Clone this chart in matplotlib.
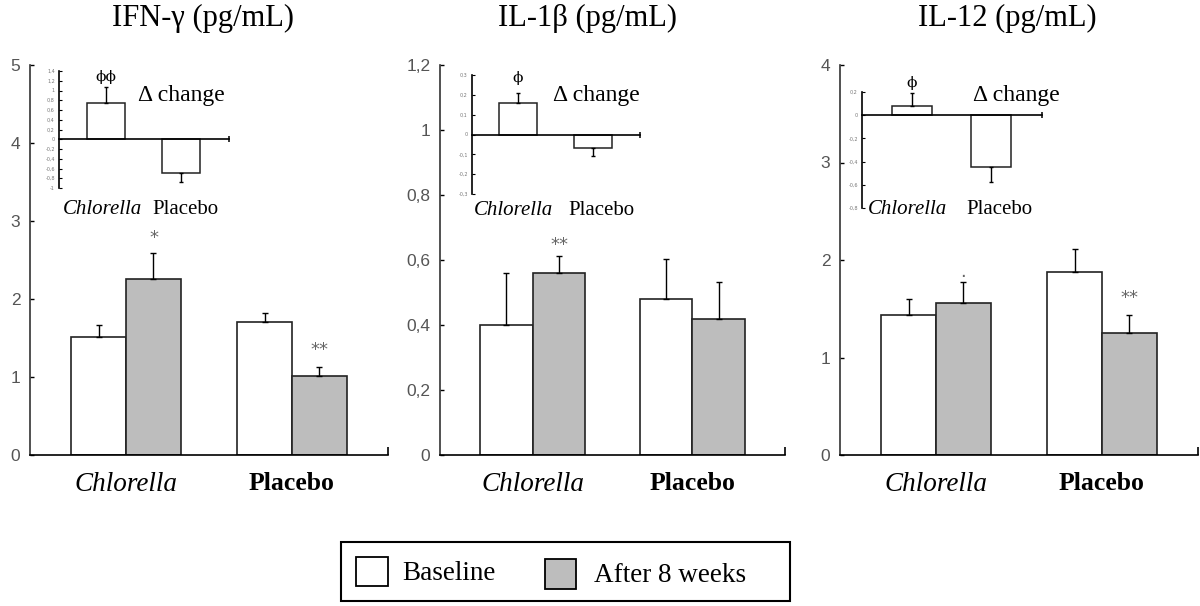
import numpy as np
import matplotlib
matplotlib.use("Agg")
import matplotlib.pyplot as plt
from matplotlib import font_manager as fm
from matplotlib.patches import Rectangle

# ---------------- data ----------------
groups = ["Chlorella", "Placebo"]
legend_labels = ["Baseline", "After 8 weeks"]

titles = ["IFN-γ (pg/mL)", "IL-1β (pg/mL)", "IL-12 (pg/mL)"]

ifn_base = [1.51, 1.71]
ifn_base_err = [0.16, 0.11]
ifn_after = [2.26, 1.01]
ifn_after_err = [0.33, 0.12]
ifn_sig = ["*", "**"]
ifn_ticks = [0, 1, 2, 3, 4, 5]
ifn_ticklabels = ["0", "1", "2", "3", "4", "5"]

il1b_base = [0.40, 0.48]
il1b_base_err = [0.16, 0.123]
il1b_after = [0.56, 0.42]
il1b_after_err = [0.052, 0.112]
il1b_sig = ["**", ""]
il1b_ticks = [0, 0.2, 0.4, 0.6, 0.8, 1.0, 1.2]
il1b_ticklabels = ["0", "0,2", "0,4", "0,6", "0,8", "1", "1,2"]

il12_base = [1.44, 1.88]
il12_base_err = [0.16, 0.23]
il12_after = [1.56, 1.25]
il12_after_err = [0.21, 0.19]
il12_sig = ["·", "**"]
il12_ticks = [0, 1, 2, 3, 4]
il12_ticklabels = ["0", "1", "2", "3", "4"]

# delta change insets
ifn_delta = [0.74, -0.70]
ifn_delta_err = [0.33, 0.18]
ifn_delta_sig = ["ϕϕ", ""]
ifn_delta_ticks = [-1, -0.8, -0.6, -0.4, -0.2, 0, 0.2, 0.4, 0.6, 0.8, 1, 1.2, 1.4]
ifn_delta_ticklabels = ["-1", "-0,8", "-0,6", "-0,4", "-0,2", "0", "0,2", "0,4",
                        "0,6", "0,8", "1", "1,2", "1,4"]

il1b_delta = [0.16, -0.07]
il1b_delta_err = [0.05, 0.04]
il1b_delta_sig = ["ϕ", ""]
il1b_delta_ticks = [-0.3, -0.2, -0.1, 0, 0.1, 0.2, 0.3]
il1b_delta_ticklabels = ["-0,3", "-0,2", "-0,1", "0", "0,1", "0,2", "0,3"]

il12_delta = [0.08, -0.45]
il12_delta_err = [0.11, 0.13]
il12_delta_sig = ["ϕ", ""]
il12_delta_ticks = [-0.8, -0.6, -0.4, -0.2, 0, 0.2]
il12_delta_ticklabels = ["-0,8", "-0,6", "-0,4", "-0,2", "0", "0,2"]

# ---------------- style / layout ----------------
names = {f.name for f in fm.fontManager.ttflist}
NARROW = "Liberation Sans Narrow" if "Liberation Sans Narrow" in names else "Liberation Sans"
SERIF = ["Liberation Serif", "DejaVu Serif"]
GREY = "#bdbdbd"
TICKC = "#555555"

W, H = 1200, 606
fig = plt.figure(figsize=(12, 6.06), dpi=100)


def rect(x0, y0, x1, y1):
    return [x0 / W, 1 - y1 / H, (x1 - x0) / W, (y1 - y0) / H]


layout = [
    dict(main=rect(30, 65, 388, 455), ymax=5, title_x=203,
         inset=rect(59, 71, 229, 188), iylim=(-1, 1.4), ixlim=(-0.63, 1.64),
         delta_xy=(0.72, 0.79), lab_y=-0.18, lab_x=(-0.05, 1.06),
         sig_off=[15, 17], isig_off=10),
    dict(main=rect(440, 65, 785, 455), ymax=1.2, title_x=588,
         inset=rect(472, 75, 640, 194), iylim=(-0.3, 0.3), ixlim=(-0.61, 1.63),
         delta_xy=(0.74, 0.83), lab_y=-0.14, lab_x=(-0.06, 1.11),
         sig_off=[11, 0], isig_off=15),
    dict(main=rect(840, 65, 1198, 455), ymax=4, title_x=1007,
         inset=rect(862, 92, 1042, 208), iylim=(-0.8, 0.2), ixlim=(-0.63, 1.65),
         delta_xy=(0.86, 0.97), lab_y=-0.01, lab_x=(-0.05, 1.11),
         sig_off=[5, 17], isig_off=10),
]

data = [
    (ifn_base, ifn_base_err, ifn_after, ifn_after_err, ifn_sig, ifn_ticks, ifn_ticklabels,
     ifn_delta, ifn_delta_err, ifn_delta_sig, ifn_delta_ticks, ifn_delta_ticklabels),
    (il1b_base, il1b_base_err, il1b_after, il1b_after_err, il1b_sig, il1b_ticks, il1b_ticklabels,
     il1b_delta, il1b_delta_err, il1b_delta_sig, il1b_delta_ticks, il1b_delta_ticklabels),
    (il12_base, il12_base_err, il12_after, il12_after_err, il12_sig, il12_ticks, il12_ticklabels,
     il12_delta, il12_delta_err, il12_delta_sig, il12_delta_ticks, il12_delta_ticklabels),
]

ekw = dict(ecolor="black", elinewidth=1.0, capsize=2, capthick=1.0)
x = np.arange(len(groups))
w = 0.33
XL = (-0.58, 1.58)

for title, lay, d in zip(titles, layout, data):
    (base, base_err, after, after_err, sig, ticks, ticklabels,
     delta, delta_err, delta_sig, dticks, dticklabels) = d

    ax = fig.add_axes(lay["main"])
    ax.bar(x - w / 2, base, w, color="white", edgecolor="#222222", linewidth=1.2,
           yerr=[np.zeros(len(base)), base_err], error_kw=ekw, zorder=2)
    ax.bar(x + w / 2, after, w, color=GREY, edgecolor="#222222", linewidth=1.2,
           yerr=[np.zeros(len(after)), after_err], error_kw=ekw, zorder=2)
    for i in range(len(groups)):
        if sig[i]:
            ax.annotate(sig[i], xy=(x[i] + w / 2, after[i] + after_err[i]),
                        xytext=(0, lay["sig_off"][i]), textcoords="offset pixels",
                        ha="center", va="center", fontsize=13, color="#666666",
                        family="DejaVu Sans")
    ax.set_xlim(*XL)
    ax.set_ylim(0, lay["ymax"])
    ax.set_yticks(ticks, ticklabels)
    ax.set_xticks(x, groups)
    ax.set_xticks([XL[1]], minor=True)
    ax.tick_params(axis="x", which="major", length=0, pad=12)
    ax.tick_params(axis="x", which="minor", direction="in", length=6, width=1.2)
    ax.tick_params(axis="y", direction="in", length=3, width=1, labelsize=12.5,
                   labelcolor=TICKC, pad=7)
    for lbl in ax.get_yticklabels():
        lbl.set_family(NARROW)
    xl = ax.get_xticklabels()
    xl[0].set_fontproperties(fm.FontProperties(family=SERIF, style="italic", size=19.5))
    xl[1].set_fontproperties(fm.FontProperties(family=SERIF, weight="bold", size=18.5))
    for s in ["top", "right"]:
        ax.spines[s].set_visible(False)
    ax.spines["left"].set_linewidth(1.2)
    ax.spines["left"].set_color("#333333")
    ax.spines["bottom"].set_linewidth(1.2)
    ax.patch.set_alpha(0)

    fig.text(lay["title_x"] / W, 1 - 18 / H, title, ha="center", va="center",
             fontsize=22, family=SERIF)

    # inset
    ia = fig.add_axes(lay["inset"])
    ia.patch.set_alpha(0)
    lower = [e if v < 0 else 0 for v, e in zip(delta, delta_err)]
    upper = [e if v >= 0 else 0 for v, e in zip(delta, delta_err)]
    ia.bar(x, delta, 0.51, color="white", edgecolor="#222222", linewidth=1.1,
           yerr=[lower, upper], error_kw=dict(ecolor="black", elinewidth=1.0, capsize=1.5),
           zorder=2)
    for i in range(len(groups)):
        if delta_sig[i]:
            ia.annotate(delta_sig[i], xy=(x[i], delta[i] + delta_err[i]),
                        xytext=(0, lay["isig_off"]), textcoords="offset pixels",
                        ha="center", va="center", fontsize=11, family=["DejaVu Serif"])
    ia.set_xlim(*lay["ixlim"])
    ia.set_ylim(*lay["iylim"])
    ia.set_yticks(dticks, dticklabels)
    ia.set_xticks([])
    ia.set_xticks([lay["ixlim"][1]], minor=True)
    ia.tick_params(axis="x", which="minor", direction="inout", length=5, width=1.1)
    ia.tick_params(axis="y", direction="in", length=2, width=0.8, labelsize=3.5,
                   labelcolor="#777777", pad=3)
    ia.spines["top"].set_visible(False)
    ia.spines["right"].set_visible(False)
    ia.spines["bottom"].set_position(("data", 0))
    ia.spines["bottom"].set_linewidth(1.2)
    ia.spines["left"].set_linewidth(1.2)
    ia.text(*lay["delta_xy"], "Δ change", transform=ia.transAxes, ha="center",
            va="center", fontsize=17, family=SERIF)
    tr = ia.get_xaxis_transform()
    ia.text(lay["lab_x"][0], lay["lab_y"], groups[0], transform=tr, ha="center",
            va="center", fontsize=15, style="italic", family=SERIF)
    ia.text(lay["lab_x"][1], lay["lab_y"], groups[1], transform=tr, ha="center",
            va="center", fontsize=15, family=SERIF)

# ---------------- legend ----------------
fig.add_artist(Rectangle((341 / W, 1 - 601 / H), (790 - 341) / W, (601 - 542) / H,
                         transform=fig.transFigure, facecolor="none",
                         edgecolor="black", linewidth=1.5))
fig.add_artist(Rectangle((356 / W, 1 - 586 / H), 32 / W, 29 / H, transform=fig.transFigure,
                         facecolor="white", edgecolor="black", linewidth=1.3))
fig.add_artist(Rectangle((545 / W, 1 - 589 / H), 31 / W, 30 / H, transform=fig.transFigure,
                         facecolor=GREY, edgecolor="black", linewidth=1.3))
fig.text(402 / W, 1 - 573 / H, legend_labels[0], ha="left", va="center",
         fontsize=19.5, family=SERIF)
fig.text(594 / W, 1 - 575 / H, legend_labels[1], ha="left", va="center",
         fontsize=19.5, family=SERIF)

fig.savefig("out.png", dpi=100, facecolor="white")
